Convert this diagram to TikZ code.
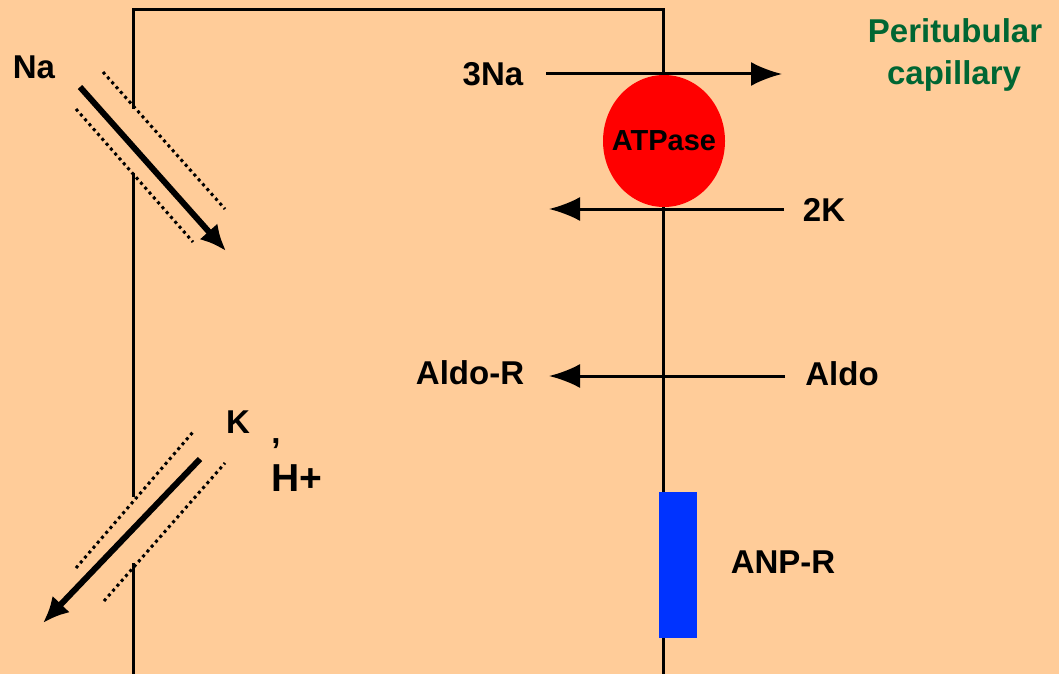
\documentclass[tikz,border=0pt]{standalone}
\usepackage{fontspec}
\setmainfont{Liberation Sans}
\usetikzlibrary{arrows.meta,shapes.geometric}
\definecolor{bg}{HTML}{FFCC99}
\definecolor{capgreen}{HTML}{006633}
\definecolor{atpred}{HTML}{FF0000}
\definecolor{anpblue}{HTML}{0033FF}
\begin{document}
\begin{tikzpicture}[x=1pt,y=-1pt,
  lbl/.style={font=\fontsize{33}{36}\selectfont\bfseries, inner sep=0pt},
  memb/.style={line width=3pt},
  harrow/.style={line width=3pt, -{Latex[length=31pt,width=24pt]}},
  darrow/.style={line width=6pt, -{Latex[length=26pt,width=24pt]}},
  channel/.style={line width=3pt, dash pattern=on 3pt off 3.5pt}]
\fill[bg] (0,0) rectangle (1059,674);
\useasboundingbox (0,0) rectangle (1059,674);
% membranes
\draw[memb] (133,109) -- (133,10) -- (663,10) -- (663,674);
\draw[memb] (133,173) -- (133,497);
\draw[memb] (133,563) -- (133,674);
% pump and receptor
\node[ellipse, fill=atpred, minimum width=122pt, minimum height=132pt, inner sep=0pt] (atp) at (664,141) {};
\node[font=\fontsize{29}{32}\selectfont\bfseries, inner sep=0pt] (atplbl) at (664,141) {ATPase};
\node[fill=anpblue, minimum width=38pt, minimum height=146pt, inner sep=0pt] (anpr) at (678,565) {};
% labels
\node[lbl] (na) at (34,67) {Na};
\node[lbl] (na3) at (493,74) {3Na};
\node[lbl] (k2) at (824,210) {2K};
\node[lbl] (aldor) at (470,373) {Aldo-R};
\node[lbl] (aldo) at (842,374) {Aldo};
\node[lbl] (anplbl) at (783,562) {ANP-R};
\node[lbl] (k) at (238,422) {K};
\node[lbl, anchor=base] (comma) at (276,443) {,};
\node[font=\fontsize{39}{42}\selectfont\bfseries, inner sep=0pt] (h) at (297,478) {H+};
\node[lbl, text=capgreen, anchor=base] (peri) at (955,43) {Peritubular};
\node[lbl, text=capgreen, anchor=base] (capil) at (954,85) {capillary};
% horizontal arrows
\coordinate (na3s) at (546,74);  \coordinate (na3e) at (782,74);
\coordinate (k2s) at (784,209);  \coordinate (k2e) at (549,209);
\coordinate (aldos) at (785,376); \coordinate (aldoe) at (549,376);
\draw[harrow] (na3s) -- (na3e);
\draw[harrow] (k2s) -- (k2e);
\draw[harrow] (aldos) -- (aldoe);
% channels
\coordinate (nac1a) at (103,72);  \coordinate (nac1b) at (225,209);
\coordinate (nac2a) at (76,109);  \coordinate (nac2b) at (193,242);
\coordinate (kc1a) at (76,568);   \coordinate (kc1b) at (193,432);
\coordinate (kc2a) at (104,601);  \coordinate (kc2b) at (225,463);
\draw[channel] (nac1a) -- (nac1b);
\draw[channel] (nac2a) -- (nac2b);
\draw[channel] (kc1a) -- (kc1b);
\draw[channel] (kc2a) -- (kc2b);
% diagonal arrows
\coordinate (naas) at (80,87);   \coordinate (naae) at (226,251);
\coordinate (kas) at (200,459);  \coordinate (kae) at (43,623);
\draw[darrow] (naas) -- (naae);
\draw[darrow] (kas) -- (kae);
\end{tikzpicture}
\end{document}
